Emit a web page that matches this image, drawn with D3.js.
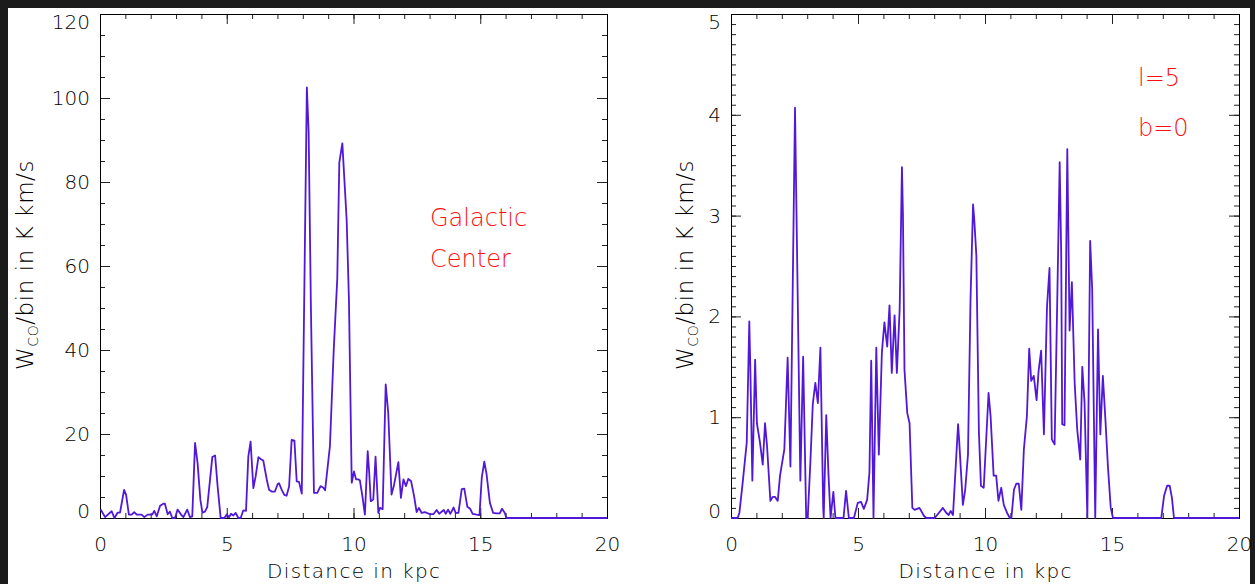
<!DOCTYPE html>
<html>
<head>
<meta charset="utf-8">
<script src="https://cdnjs.cloudflare.com/ajax/libs/d3/7.8.5/d3.min.js"></script>
<style>
  html, body { margin: 0; padding: 0; background: #1b1b1b; }
  svg { display: block; }
  text { font-family: "DejaVu Sans", sans-serif; font-weight: 200; }
</style>
</head>
<body>
<svg id="chart" width="1255" height="584"></svg>
<script>
// ---------- data ----------
const xTickLabels = [0, 5, 10, 15, 20];
const leftYTickLabels = [0, 20, 40, 60, 80, 100, 120];
const rightYTickLabels = [0, 1, 2, 3, 4, 5];

const leftDist = [0.02,0.2,0.46,0.57,0.7,0.79,0.95,1.03,1.14,1.25,1.35,1.45,1.64,1.75,1.88,2.06,2.14,2.24,2.37,2.5,2.56,2.67,2.76,2.85,2.96,3.06,3.2,3.29,3.44,3.55,3.64,3.75,3.85,3.96,4.04,4.14,4.23,4.34,4.43,4.54,4.64,4.76,4.9,5.0,5.09,5.17,5.26,5.35,5.46,5.55,5.65,5.76,5.85,5.94,6.05,6.14,6.25,6.35,6.44,6.58,6.67,6.77,6.9,7.01,7.06,7.17,7.27,7.36,7.46,7.56,7.67,7.76,7.85,7.96,8.16,8.23,8.32,8.44,8.57,8.7,8.81,8.88,9.07,9.22,9.36,9.44,9.56,9.73,9.82,9.93,10.02,10.1,10.19,10.25,10.35,10.45,10.56,10.62,10.68,10.78,10.87,10.98,11.04,11.15,11.27,11.37,11.5,11.59,11.77,11.87,11.97,12.07,12.16,12.27,12.39,12.49,12.58,12.69,12.82,13.02,13.15,13.28,13.38,13.56,13.64,13.73,13.82,13.95,14.03,14.14,14.27,14.37,14.49,14.6,14.7,14.86,14.97,15.06,15.16,15.25,15.38,15.51,15.64,15.77,15.86,15.97,16.03,20];
const leftW = [2.1,0.2,1.6,0,1.3,1.3,6.7,5.5,0.8,0.8,1.4,0.8,0.8,0.2,0.8,0.8,1.7,0.4,2.9,3.4,3.4,0.9,1.5,0,0,2,0.8,0.2,2,0.2,0.4,17.9,13,4.3,1.3,1.5,2.6,9.1,14.5,14.9,7.5,0,0,0.8,0.2,1,0.6,1.2,0,0,1.8,1.7,14.6,18.2,7.1,9.9,14.5,14,13.7,9.1,6.7,6.3,6.3,8.1,8.3,6.7,5.5,5.3,7.5,18.6,18.4,8.7,8.6,5.8,102.5,92,50,6,6,7.6,7.2,6.6,17.1,40,57,84.6,89.2,71,52,8.4,11.1,9.2,9.2,9,5.2,0.8,15.9,10.8,4,4.4,14.6,1.2,2.4,2.1,31.8,25,5.6,7.6,13.3,4.8,9.2,7.6,9.3,8.8,5.2,1.4,2.4,1.2,1.4,0.9,0.9,1.9,1,1.9,1,2,1,2.5,1.2,1.2,6.9,7,2.7,2.2,1,0.8,0.7,9.6,13.4,10.4,3.6,1.2,1.1,1.1,2.2,1.2,0,0];

const rightDist = [0,0.26,0.33,0.46,0.62,0.72,0.76,0.84,0.95,1.02,1.14,1.25,1.34,1.42,1.55,1.64,1.73,1.84,1.93,2.1,2.23,2.34,2.52,2.58,2.73,2.84,2.96,3.02,3.13,3.22,3.32,3.42,3.52,3.63,3.65,3.75,3.84,3.92,4.03,4.11,4.43,4.53,4.64,4.84,4.99,5.12,5.23,5.36,5.45,5.52,5.61,5.72,5.82,5.94,6.04,6.15,6.24,6.33,6.44,6.53,6.64,6.73,6.77,6.83,6.94,7.03,7.14,7.23,7.42,7.6,7.69,8.02,8.34,8.48,8.57,8.65,8.74,8.94,8.98,9.13,9.22,9.33,9.43,9.53,9.58,9.66,9.76,9.84,9.95,10.14,10.22,10.34,10.44,10.53,10.64,10.74,10.87,10.98,11.04,11.14,11.23,11.33,11.43,11.53,11.65,11.74,11.82,11.92,12.03,12.11,12.21,12.32,12.44,12.54,12.63,12.74,12.84,12.94,13.0,13.04,13.13,13.24,13.33,13.42,13.53,13.63,13.75,13.83,13.92,14.03,14.14,14.22,14.34,14.45,14.54,14.64,14.74,14.84,14.95,15.04,16.94,17.05,17.17,17.27,17.36,17.44,20];
const rightW = [0,0,0.05,0.35,0.75,1.95,1.5,0.37,1.57,0.94,0.75,0.53,0.94,0.71,0.17,0.21,0.21,0.17,0.42,0.68,1.59,0.51,4.07,3.0,0.37,1.6,0,0,0.58,1.13,1.34,1.14,1.69,0.1,0,1.02,0.42,0,0.26,0,0,0.27,0,0,0.15,0.16,0.09,0.18,0.45,1.56,0,1.69,0.63,1.64,1.94,1.7,2.11,1.44,2.01,1.44,2.07,3.48,3.0,1.47,1.04,0.94,0.1,0.08,0.1,0.02,0,0,0.1,0.05,0.03,0.07,0.03,0.93,0.78,0.13,0.28,0.63,2.17,3.11,2.95,2.6,0.85,0.32,0.3,1.24,1.01,0.42,0.42,0.17,0.3,0.13,0.05,0,0,0.28,0.34,0.34,0.08,0.68,1.01,1.68,1.36,1.41,1.17,1.46,1.66,0.83,2.09,2.48,0.78,0.73,2.09,3.53,2.63,0.93,0.92,3.66,1.86,2.34,1.34,0.88,0.58,1.5,1.14,0,2.75,2.27,0,1.87,0.83,1.41,0.98,0.51,0.1,0,0,0.22,0.32,0.32,0.2,0,0];

const leftNotes = ["Galactic", "Center"];
const rightNotes = ["l=5", "b=0"];

// ---------- drawing ----------
const svg = d3.select("#chart");
svg.append("rect").attr("x", 8).attr("y", 8).attr("width", 1242).attr("height", 576).attr("fill", "#ffffff");

const lineColor = "#5118d8";
const tickColor = "#222";
const textColor = "#000";

function panel(cfg) {
  const g = svg.append("g");
  const x = d3.scaleLinear().domain([0, 20]).range([cfg.x0, cfg.x1]);
  const y = d3.scaleLinear().domain([0, cfg.ymax]).range([cfg.y1, cfg.y0]);

  const minorX = d3.range(0, 21, 1);
  const minorY = d3.range(0, cfg.ymax + 1e-9, cfg.yMinor).map(v => +v.toFixed(4));

  function ticks(axisGen, transform, vals, size) {
    const a = g.append("g").attr("transform", transform)
      .call(axisGen.tickValues(vals).tickSize(-size).tickFormat(""));
    a.select(".domain").remove();
    a.selectAll("line").attr("stroke", tickColor);
    return a;
  }
  // minor ticks
  ticks(d3.axisBottom(x), `translate(0,${cfg.y1})`, minorX, 5);
  ticks(d3.axisTop(x), `translate(0,${cfg.y0})`, minorX, 5);
  ticks(d3.axisLeft(y), `translate(${cfg.x0},0)`, minorY, 5);
  ticks(d3.axisRight(y), `translate(${cfg.x1},0)`, minorY, 5);
  // major ticks
  ticks(d3.axisBottom(x), `translate(0,${cfg.y1})`, xTickLabels, 10);
  ticks(d3.axisTop(x), `translate(0,${cfg.y0})`, xTickLabels, 10);
  ticks(d3.axisLeft(y), `translate(${cfg.x0},0)`, cfg.yTicks, 10);
  ticks(d3.axisRight(y), `translate(${cfg.x1},0)`, cfg.yTicks, 10);

  // frame
  g.append("rect")
    .attr("x", cfg.x0 + 0.5).attr("y", cfg.y0 + 0.5)
    .attr("width", cfg.x1 - cfg.x0).attr("height", cfg.y1 - cfg.y0)
    .attr("fill", "none").attr("stroke", "#000").attr("stroke-width", 1);

  // tick labels
  const xl = g.append("g").attr("transform", `translate(0,${cfg.y1})`)
    .call(d3.axisBottom(x).tickValues(xTickLabels).tickSize(0).tickPadding(19).tickFormat(d3.format("d")));
  xl.select(".domain").remove();
  xl.selectAll("text").attr("font-size", 20).attr("fill", textColor)
    .attr("font-family", "DejaVu Sans").attr("font-weight", 200);

  const yl = g.append("g").attr("transform", `translate(${cfg.x0},0)`)
    .call(d3.axisLeft(y).tickValues(cfg.yTicks).tickSize(0).tickPadding(10).tickFormat(d3.format("d")));
  yl.select(".domain").remove();
  yl.selectAll("text").attr("font-size", 20).attr("fill", textColor)
    .attr("font-family", "DejaVu Sans").attr("font-weight", 200)
    .attr("y", d => {
      const p = y(d);
      const c = Math.max(cfg.y0 + 8.5, Math.min(cfg.y1 - 6.5, p));
      return c - p;
    });

  // x title
  g.append("text")
    .attr("x", (cfg.x0 + cfg.x1) / 2).attr("y", 578)
    .attr("text-anchor", "middle").attr("font-size", 20).attr("fill", textColor)
    .attr("textLength", 173).attr("lengthAdjust", "spacing")
    .text("Distance in kpc");

  // y title
  const yt = g.append("text")
    .attr("transform", `translate(${cfg.ytx},265) rotate(-90)`)
    .attr("text-anchor", "middle").attr("font-size", 23).attr("fill", textColor);
  yt.append("tspan").text("W");
  yt.append("tspan").attr("font-size", 14).attr("dy", 5).text("CO");
  yt.append("tspan").attr("dy", -5).text("/bin in K km/s");
  const len = yt.node().getComputedTextLength();
  const nChars = ("WCO/bin in K km/s").length;
  yt.attr("letter-spacing", ((210 - len) / nChars).toFixed(2));

  // line
  const pts = cfg.dist.map((d, i) => [d, cfg.vals[i]]);
  g.append("path").datum(pts)
    .attr("fill", "none").attr("stroke", lineColor).attr("stroke-width", 1.8)
    .attr("stroke-linejoin", "round")
    .attr("d", d3.line().x(d => x(d[0])).y(d => y(d[1])));

  // notes
  cfg.notes.forEach((t, i) => {
    g.append("text")
      .attr("x", cfg.noteX).attr("y", cfg.noteY[i])
      .attr("font-size", 24).attr("fill", "#ff1010")
      .text(t);
  });
}

panel({
  x0: 100, x1: 607, y0: 14, y1: 518, ymax: 120, yMinor: 5,
  yTicks: leftYTickLabels, dist: leftDist, vals: leftW,
  ytx: 33, notes: leftNotes, noteX: 430, noteY: [226, 267]
});
panel({
  x0: 731, x1: 1239, y0: 14, y1: 518, ymax: 5, yMinor: 0.1,
  yTicks: rightYTickLabels, dist: rightDist, vals: rightW,
  ytx: 693, notes: rightNotes, noteX: 1138, noteY: [86, 136]
});
</script>
</body>
</html>
